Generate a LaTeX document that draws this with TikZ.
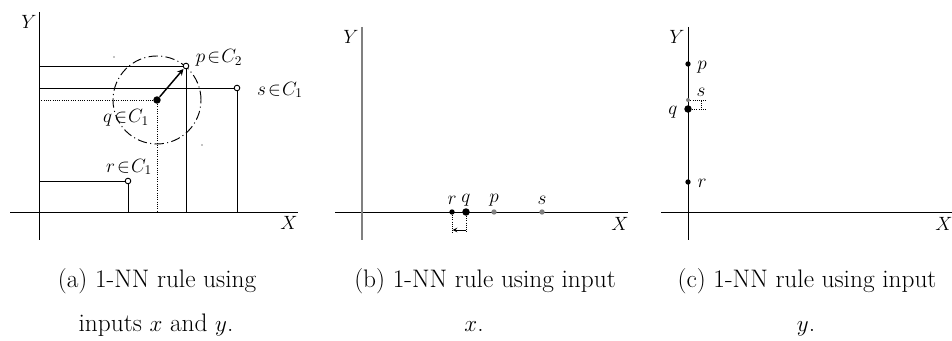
\documentclass[tikz,border=0pt]{standalone}
\usetikzlibrary{arrows,positioning}
\tikzstyle{opendot} = [circle,draw,fill=white,inner sep=0pt,minimum size=4.2pt,line width=0.7pt]
\tikzstyle{fulldot} = [circle,fill=black,inner sep=0pt,minimum size=4pt]
\tikzstyle{bigdot} = [circle,fill=black,inner sep=0pt,minimum size=5.6pt]
\tikzstyle{greydot} = [circle,fill=gray,inner sep=0pt,minimum size=4pt]
\tikzstyle{lbl} = [inner sep=0pt,font=\fontsize{14.5}{17}\selectfont]
\tikzstyle{captext} = [inner sep=0pt,anchor=base,font=\fontsize{19}{23}\selectfont]
\newcommand{\inclass}[2]{$#1\mskip2mu{\in}\mskip1mu C_{#2}$}

\begin{document}
\begin{tikzpicture}[x=0.75pt,y=-0.75pt,line width=0.7pt]
\useasboundingbox (0,0) rectangle (952,341);

% (a) both inputs
\coordinate (xa1) at (10,212);
\coordinate (xa2) at (298,212);
\coordinate (ya1) at (39,12);
\coordinate (ya2) at (39,240);
\coordinate (oa) at (39,212);
\coordinate (qca) at (157,100);
\draw (xa1) -- (xa2);
\draw (ya1) -- (ya2);
\node[lbl] (lya) at (29,22) {$Y$};
\node[lbl] (lxa) at (289,223) {$X$};
\draw[dash pattern=on 7pt off 2.5pt on 0.8pt off 2.5pt] (qca) circle (33pt);
\fill (114,57) circle (0.5pt);
\fill (202,145) circle (0.5pt);

\node[opendot] (pa) at (186,66) {};
\node[opendot] (sa) at (237,88) {};
\node[opendot] (ra) at (128,181) {};
\node[bigdot] (qa) at (qca) {};
\draw (pa -| oa) -- (pa) -- (pa |- oa);
\draw (sa -| oa) -- (sa) -- (sa |- oa);
\draw (ra -| oa) -- (ra) -- (ra |- oa);
\draw[densely dotted] (qa -| oa) -- (qa) -- (qa |- oa);
\draw[->,>=stealth,line width=1.1pt,shorten >=0.5pt] (qa) -- (pa);

\node[lbl] (lpa) at (219,58) {\inclass{p}{2}};
\node[lbl] (lsa) at (280,90) {\inclass{s}{1}};
\node[lbl] (lqa) at (126,118) {\inclass{q}{1}};
\node[lbl] (lra) at (129,167) {\inclass{r}{1}};

% (b) input x
\coordinate (xb1) at (335,212);
\coordinate (xb2) at (628,212);
\coordinate (yb1) at (362,27);
\coordinate (yb2) at (362,240);
\draw (xb1) -- (xb2);
\draw[gray,line width=1.2pt] (yb1) -- (yb2);
\node[lbl] (lyb) at (351,37) {$Y$};
\node[lbl] (lxb) at (620,224) {$X$};

\node[fulldot] (rb) at (452,212) {};
\node[bigdot] (qb) at (466,212) {};
\node[greydot] (pb) at (494,212) {};
\node[greydot] (sb) at (542,212) {};
\coordinate (rb0) at (452,233);
\coordinate (qb0) at (466,233);
\coordinate (rb1) at (452.5,230);
\coordinate (qb1) at (466,230);
\draw[densely dotted,line width=0.6pt] (rb) -- (rb0);
\draw[densely dotted,line width=0.6pt] (qb) -- (qb0);
\draw[->,>=stealth,line width=0.6pt] (qb1) -- (rb1);

\node[lbl] (lrb) at (452,200) {$r$};
\node[lbl] (lqb) at (466,200) {$q$};
\node[lbl] (lpb) at (494,200) {$p$};
\node[lbl] (lsb) at (542,200) {$s$};

% (c) input y
\coordinate (xc1) at (661,212);
\coordinate (xc2) at (952,212);
\coordinate (yc1) at (688,27);
\coordinate (yc2) at (688,240);
\draw (xc1) -- (xc2);
\draw (yc1) -- (yc2);
\node[lbl] (lyc) at (677,37) {$Y$};
\node[lbl] (lxc) at (944,224) {$X$};

\node[fulldot] (pc) at (688,64) {};
\node[greydot,minimum size=3pt] (sc) at (688,100) {};
\node[bigdot] (qc) at (688,109) {};
\node[fulldot] (rc) at (688,182) {};
\coordinate (sc0) at (707,100);
\coordinate (qc0) at (707,109);
\coordinate (sc1) at (701,101.5);
\coordinate (qc1) at (701,108);
\draw[densely dotted,line width=0.6pt] (sc) -- (sc0);
\draw[densely dotted,line width=0.6pt] (qc) -- (qc0);
\draw[densely dotted,line width=0.5pt] (qc1) -- (sc1);

\node[lbl] (lpc) at (702,67) {$p$};
\node[lbl] (lsc) at (701,92) {$s$};
\node[lbl] (lqc) at (673,112) {$q$};
\node[lbl] (lrc) at (702,183) {$r$};

% captions
\node[captext] (capa) at (157,288) {(a) 1-NN rule using};
\node[captext] (capa2) at (156,332) {inputs $x$ and $y$.};
\node[captext] (capb) at (485,288) {(b) 1-NN rule using input};
\node[captext] (capb2) at (474,332) {$x$.};
\node[captext] (capc) at (807,288) {(c) 1-NN rule using input};
\node[captext] (capc2) at (806,332) {$y$.};
\end{tikzpicture}
\end{document}
